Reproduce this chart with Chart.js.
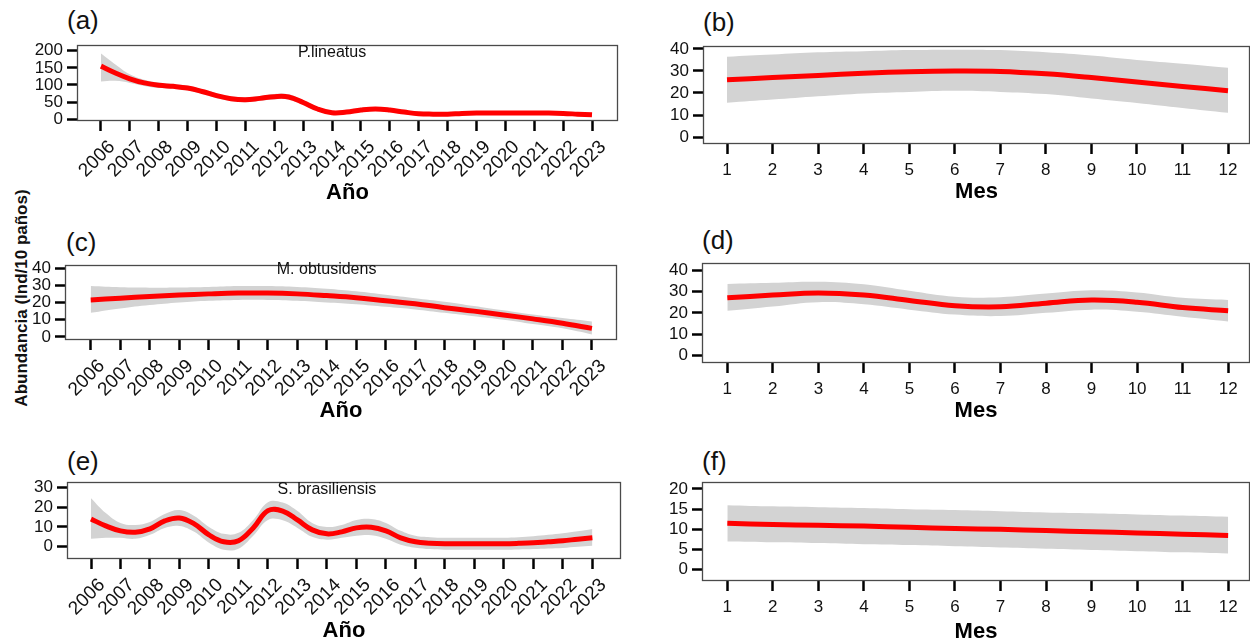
<!DOCTYPE html>
<html><head><meta charset="utf-8">
<script src="https://cdn.jsdelivr.net/npm/chart.js@4/dist/chart.umd.min.js"></script>
<style>
body{margin:0;width:1250px;height:643px;position:relative;background:#fff;overflow:hidden;font-family:'Liberation Sans',Arial,sans-serif;color:#111}
canvas{position:absolute;left:0;top:0}
.lab{position:absolute;font-size:26px;line-height:1;white-space:nowrap}
#yt{position:absolute;left:21px;top:298px;transform:translate(-50%,-50%) rotate(-90deg);white-space:nowrap;font-weight:bold;font-size:17px;line-height:1}
</style></head><body>
<div class="lab" style="left:67px;top:7px">(a)</div>
<div class="lab" style="left:703px;top:9px">(b)</div>
<div class="lab" style="left:66px;top:229px">(c)</div>
<div class="lab" style="left:702px;top:227px">(d)</div>
<div class="lab" style="left:67px;top:448px">(e)</div>
<div class="lab" style="left:702px;top:448px">(f)</div>
<div id="yt">Abundancia (Ind/10 paños)</div>
<canvas id="ca" width="1250" height="643"></canvas>
<canvas id="cb" width="1250" height="643"></canvas>
<canvas id="cc" width="1250" height="643"></canvas>
<canvas id="cd" width="1250" height="643"></canvas>
<canvas id="ce" width="1250" height="643"></canvas>
<canvas id="cf" width="1250" height="643"></canvas>
<script>
// ---- data ----
const yearTicks = [2006,2007,2008,2009,2010,2011,2012,2013,2014,2015,2016,2017,2018,2019,2020,2021,2022,2023];
const monthTicks = [1,2,3,4,5,6,7,8,9,10,11,12];
const halfYears = [2006,2006.5,2007,2007.5,2008,2008.5,2009,2009.5,2010,2010.5,2011,2011.5,2012,2012.5,2013,2013.5,2014,2014.5,2015,2015.5,2016,2016.5,2017,2017.5,2018,2018.5,2019,2019.5,2020,2020.5,2021,2021.5,2022,2022.5,2023];

const speciesA = 'P.lineatus';
const speciesC = 'M. obtusidens';
const speciesE = 'S. brasiliensis';

const yTicksA = [0,50,100,150,200];
const yTicksB = [0,10,20,30,40];
const yTicksC = [0,10,20,30,40];
const yTicksD = [0,10,20,30,40];
const yTicksE = [0,10,20,30];
const yTicksF = [0,5,10,15,20];

// (a) P.lineatus by year (half-year samples)
const fitA = [155,135,118,106,99,96,91,81,69,60,57,61,66,65,49,30,19,21,27,30,27,21,16,15,15,17,18,18,18,18,18,18,17,15,13];
const upA  = [192,160,131,115,107,103,98,88,76,67,64,68,74,73,56,36,24,26,33,36,32,26,20,19,19,21,22,22,22,22,22,22,21,19,18];
const loA  = [110,112,106,97,91,89,84,74,62,53,50,54,58,57,42,24,14,16,21,24,22,16,12,11,11,13,14,14,14,14,14,14,13,11,8];

// (b) P.lineatus by month
const fitB = [26,27,28,29,29.7,30,29.8,28.7,27,25,23,21];
const upB  = [36.5,37.5,38.5,39,39.5,39.7,39.5,38.5,37,35,33.3,31.5];
const loB  = [15.6,17,18.5,19.8,20.5,21,20.5,19.5,17.5,15.5,13.2,11];

// (c) M. obtusidens by year
const fitC = [21.5,22.5,23.5,24.3,25,25.5,25.5,25,24,22.8,21,19.3,17,15,12.8,10.5,8,5];
const upC  = [29.5,28.8,28.6,28.7,29,29.5,29.5,29,28,26.5,24.5,22.5,20.5,18,15.5,13,11,9];
const loC  = [14,16.5,18.5,20,21,21.5,21.5,21,20,19,17.5,16,14,12,10,7.5,5,1.5];

// (d) M. obtusidens by month
const fitD = [27,28.3,29.3,28.3,25.8,23.3,22.8,24.5,26,25,22.5,21];
const upD  = [33.5,34,34.5,33.3,30.3,27.5,27.3,29,30.5,29.5,27,26];
const loD  = [21,23,25,24,21.5,19.2,18.5,20,21.5,20.5,18.2,16];

// (e) S. brasiliensis by year (half-year samples)
const fitE = [14,10.5,8,7.3,9,13,14.5,11.5,6,2.5,3,9.5,18.2,18,13.5,8.5,6.5,7.5,9.5,9.8,8,4.5,2.5,1.8,1.5,1.5,1.5,1.5,1.5,1.7,2,2.5,3,3.8,4.5];
const upE  = [24.5,17,12,11,12.5,16.5,18.5,15.5,10,6.5,7,13.5,22.5,22.3,18,12,10,11,13.5,14,12,8,5.5,4.8,4.5,4.5,4.5,4.5,4.5,4.8,5.3,6,6.8,7.8,9];
const loE  = [4,4.5,4.5,4,6,9.5,10.5,7.5,2,-1.5,-1,5.5,13.5,13.3,9.5,5,3.5,4.5,5.5,5.8,4,1,-0.5,-1.2,-1.5,-1.5,-1.5,-1.5,-1.5,-1.4,-1.2,-0.9,-0.6,0,0.5];

// (f) S. brasiliensis by month
const fitF = [11.5,11.2,11,10.8,10.5,10.2,10,9.7,9.4,9.1,8.8,8.5];
const upF  = [16,15.7,15.5,15.3,15,14.8,14.5,14.2,14,13.7,13.4,13.1];
const loF  = [7,6.8,6.6,6.3,6.1,5.8,5.5,5.2,4.9,4.6,4.3,4];

// ---- drawing ----
const FONT = "'Liberation Sans', Arial, sans-serif";
const TICKLEN = 10;
const TITLE_SIZE = 22;

function makePanel(id, o) {
  const titleLH = TITLE_SIZE * 1.2;
  const H = o.titleY + titleLH / 2 - o.box.b;
  const W = 62;
  const pts = arr => o.x.map((x, i) => ({x: x, y: arr[i]}));
  const panelPlugin = {
    id: 'panel_' + id,
    afterDraw(chart) {
      const c = chart.ctx, a = chart.chartArea;
      c.save();
      c.strokeStyle = '#4a4a4a';
      c.lineWidth = 1.3;
      c.strokeRect(a.left + 0.5, a.top + 0.5, a.right - a.left - 1, a.bottom - a.top - 1);
      if (o.species) {
        c.fillStyle = '#111';
        c.font = '16px ' + FONT;
        c.textAlign = 'center';
        c.textBaseline = 'middle';
        c.fillText(o.species, chart.scales.x.getPixelForValue(o.speciesX), chart.scales.y.getPixelForValue(o.speciesY) + 2);
      }
      c.restore();
    }
  };
  new Chart(document.getElementById(id), {
    type: 'line',
    data: {datasets: [
      {data: pts(o.fit), borderColor: '#ff0000', borderWidth: 5, pointRadius: 0, fill: false, tension: 0.4, borderCapStyle: 'butt'},
      {data: pts(o.up), borderWidth: 0, borderColor: 'rgba(0,0,0,0)', backgroundColor: '#d3d3d3', pointRadius: 0, fill: '+1', tension: 0.4},
      {data: pts(o.lo), borderWidth: 0, borderColor: 'rgba(0,0,0,0)', backgroundColor: '#d3d3d3', pointRadius: 0, fill: false, tension: 0.4}
    ]},
    options: {
      responsive: false, animation: false, devicePixelRatio: 1,
      layout: {padding: {left: o.box.l - W, top: o.box.t, right: 1250 - o.box.r, bottom: 643 - o.box.b - H}},
      plugins: {legend: {display: false}, tooltip: {enabled: false}},
      scales: {
        x: {
          type: 'linear', min: o.xmin, max: o.xmax,
          afterBuildTicks: s => { s.ticks = o.xt.map(v => ({value: v})); },
          afterFit: s => { s.height = H; },
          grid: {drawOnChartArea: false, drawTicks: true, tickLength: TICKLEN, tickWidth: 2.5, tickColor: '#000'},
          border: {display: false},
          ticks: {autoSkip: false, maxRotation: o.rot, minRotation: o.rot, padding: o.xpad, labelOffset: o.xoff,
                  font: {size: o.xfs, family: FONT}, color: '#111', callback: v => String(v)},
          title: {display: true, text: o.xtitle, font: {size: TITLE_SIZE, weight: 'bold', family: FONT}, color: '#000', padding: 0}
        },
        y: {
          type: 'linear', min: o.ymin, max: o.ymax,
          afterBuildTicks: s => { s.ticks = o.yt.map(v => ({value: v})); },
          afterFit: s => { s.width = W; },
          grid: {drawOnChartArea: false, drawTicks: true, tickLength: TICKLEN, tickWidth: 2.5, tickColor: '#000'},
          border: {display: false},
          ticks: {autoSkip: false, padding: 4, font: {size: 17, family: FONT}, color: '#111', callback: v => String(v)}
        }
      }
    },
    plugins: [panelPlugin]
  });
}

makePanel('ca', {x: halfYears, fit: fitA, up: upA, lo: loA, xt: yearTicks, yt: yTicksA,
  box: {l: 77, t: 45, r: 618, b: 121}, xmin: 2005.17, xmax: 2023.9, ymin: -5, ymax: 216.6,
  rot: 45, xfs: 19, xpad: 5, xoff: 11, xtitle: 'Año', titleY: 193, species: speciesA, speciesX: 2014, speciesY: 200});
makePanel('cb', {x: monthTicks, fit: fitB, up: upB, lo: loB, xt: monthTicks, yt: yTicksB,
  box: {l: 703, t: 46, r: 1250, b: 144}, xmin: 0.473, xmax: 12.483, ymin: -3.18, ymax: 41.36,
  rot: 0, xfs: 17, xpad: 6, xoff: 0, xtitle: 'Mes', titleY: 192});
makePanel('cc', {x: yearTicks, fit: fitC, up: upC, lo: loC, xt: yearTicks, yt: yTicksC,
  box: {l: 65, t: 265, r: 617, b: 340}, xmin: 2005.128, xmax: 2023.85, ymin: -1.74, ymax: 41.74,
  rot: 45, xfs: 19, xpad: 5, xoff: 11, xtitle: 'Año', titleY: 411, species: speciesC, speciesX: 2014, speciesY: 40});
makePanel('cd', {x: monthTicks, fit: fitD, up: upD, lo: loD, xt: monthTicks, yt: yTicksD,
  box: {l: 702, t: 263, r: 1250, b: 363}, xmin: 0.444, xmax: 12.48, ymin: -3.41, ymax: 43.27,
  rot: 0, xfs: 17, xpad: 6, xoff: 0, xtitle: 'Mes', titleY: 411});
makePanel('ce', {x: halfYears, fit: fitE, up: upE, lo: loE, xt: yearTicks, yt: yTicksE,
  box: {l: 67, t: 482, r: 621, b: 559}, xmin: 2005.186, xmax: 2023.97, ymin: -6.21, ymax: 32.68,
  rot: 45, xfs: 19, xpad: 5, xoff: 11, xtitle: 'Año', titleY: 631, species: speciesE, speciesX: 2014, speciesY: 30});
makePanel('cf', {x: monthTicks, fit: fitF, up: upF, lo: loF, xt: monthTicks, yt: yTicksF,
  box: {l: 702, t: 482, r: 1250, b: 581}, xmin: 0.444, xmax: 12.48, ymin: -2.8, ymax: 21.73,
  rot: 0, xfs: 17, xpad: 6, xoff: 0, xtitle: 'Mes', titleY: 632});
</script>
</body></html>
